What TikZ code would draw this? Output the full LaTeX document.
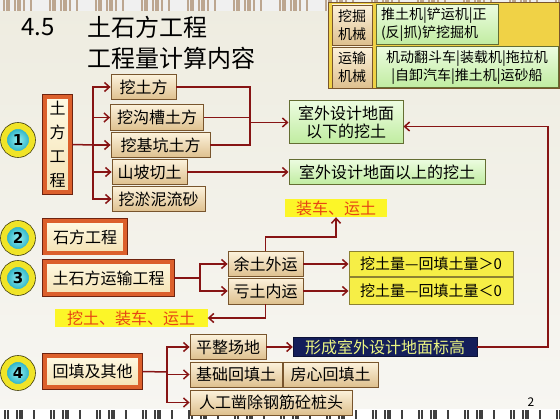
\documentclass[tikz,border=0pt]{standalone}
\usepackage{fontspec}
\setmainfont{Noto Sans CJK SC}
\newfontfamily\numfont{DejaVu Sans}
\usepackage{tikz}
\usetikzlibrary{arrows.meta}

\definecolor{linkred}{RGB}{135,20,20}
\definecolor{tanT}{RGB}{252,242,220}
\definecolor{tanB}{RGB}{222,192,142}
\definecolor{tanD}{RGB}{120,85,45}
\definecolor{creamT}{RGB}{255,250,228}
\definecolor{creamB}{RGB}{244,226,180}
\definecolor{orangeB}{RGB}{220,96,44}
\definecolor{orangeD}{RGB}{110,35,15}
\definecolor{greenT}{RGB}{236,252,224}
\definecolor{greenB}{RGB}{192,236,160}
\definecolor{greenD}{RGB}{100,110,50}
\definecolor{yellowF}{RGB}{246,238,70}
\definecolor{yellowD}{RGB}{140,130,50}
\definecolor{hiYellow}{RGB}{252,246,40}
\definecolor{hiText}{RGB}{230,70,20}
\definecolor{navy}{RGB}{20,30,90}
\definecolor{navyText}{RGB}{235,245,130}
\definecolor{ringY}{RGB}{240,228,40}
\definecolor{tealI}{RGB}{150,240,240}
\definecolor{tealO}{RGB}{20,165,190}
\definecolor{bgTop}{RGB}{238,236,224}
\definecolor{bgBot}{RGB}{247,246,242}
\definecolor{gold}{RGB}{240,210,70}

\begin{document}
\begin{tikzpicture}[x=1pt, y=-1pt,
    tanbox/.style={draw=tanD, line width=0.8pt, top color=tanT, bottom color=tanB,
        inner sep=0pt, font=\fontsize{16}{18}\selectfont},
    mainbox/.style={draw=orangeB, line width=4pt, top color=creamT, bottom color=creamB,
        preaction={draw=orangeD, line width=5.6pt}, inner sep=0pt,
        font=\fontsize{16}{18}\selectfont},
    greenbox/.style={draw=greenD, line width=1pt, top color=greenT, bottom color=greenB,
        inner sep=0pt, font=\fontsize{16}{18}\selectfont},
    yellowbox/.style={draw=yellowD, line width=1pt, fill=yellowF, inner sep=0pt,
        font=\fontsize{15}{18}\selectfont},
    hilite/.style={fill=hiYellow, text=hiText, inner sep=0pt, font=\fontsize{16}{18}\selectfont},
    navybox/.style={fill=navy, draw=navy!60!black, text=navyText, inner sep=0pt,
        font=\fontsize{16}{18}\selectfont},
    numball/.style={circle, minimum size=28pt, inner sep=0pt, draw=ringY, line width=6pt,
        inner color=tealI, outer color=tealO, preaction={draw=black!70!ringY, line width=7.6pt},
        font=\numfont\bfseries\fontsize{15}{15}\selectfont},
    wire/.style={draw=linkred, line width=1.5pt},
    link/.style={wire, -{Straight Barb[length=5pt,width=9pt]}}]
\useasboundingbox (0,0) rectangle (560,419);

% Background and strips
\fill[top color=bgTop, bottom color=bgBot] (0,0) rectangle (560,419);
\fill[gray!12] (0,0) rectangle (560,11);
\foreach \x in {0,46,...,552} {
    \foreach \d in {3,6,8,14,17,19,23,30} {
        \fill[brown!50!gray!70] (\x+\d,0) rectangle ++(1.5,11);
    }
}
\fill[white] (0,409) rectangle (560,419);
\foreach \x in {0,46,...,552} {
    \foreach \d in {4,7,16,19,21,33} {
        \fill[black!75] (\x+\d,410) rectangle ++(1.5,9);
    }
}

% Title
\node[anchor=west, font=\fontsize{24}{24}\selectfont] (t0) at (18,27) {4.5};
\node[anchor=west, font=\fontsize{24}{24}\selectfont] (t1) at (84,27) {土石方工程};
\node[anchor=west, font=\fontsize{24}{24}\selectfont] (t2) at (84,58) {工程量计算内容};

% Machines table
\draw[draw=tanD, fill=gold, line width=1pt] (328,3) rectangle (559.5,89);
\node[tanbox, minimum width=40, minimum height=40, align=center, font=\fontsize{14}{18}\selectfont]
    (k1) at (352,25) {挖掘\\机械};
\node[greenbox, minimum width=122, minimum height=40, text width=112, align=left,
    font=\fontsize{14}{18}\selectfont] (g1) at (437,25) {推土机|铲运机|正\\(反|抓)铲挖掘机};
\node[tanbox, minimum width=40, minimum height=41, align=center, font=\fontsize{14}{18}\selectfont]
    (k2) at (352,67.5) {运输\\机械};
\node[greenbox, minimum width=182, minimum height=41, align=center,
    font=\fontsize{14}{18}\selectfont] (g2) at (467,67.5) {机动翻斗车|装载机|拖拉机\\|自卸汽车|推土机|运砂船};

% 1 Earthwork
\node[numball] (c1) at (18,140) {1};
\node[mainbox, minimum width=25.4, minimum height=95.4, align=center,
    font=\fontsize{16}{24}\selectfont] (m1) at (57.5,144.5) {土\\方\\工\\程};
\coordinate (j1) at (93,145);
\node[tanbox, minimum width=65, minimum height=25] (b11) at (143.5,87) {挖土方};
\node[tanbox, minimum width=93, minimum height=26] (b12) at (157,117.5) {挖沟槽土方};
\node[tanbox, minimum width=99, minimum height=25] (b13) at (160.5,145) {挖基坑土方};
\node[tanbox, minimum width=75, minimum height=25] (b14) at (149.5,172) {山坡切土};
\node[tanbox, minimum width=93, minimum height=25] (b15) at (158.5,199) {挖淤泥流砂};
\node[greenbox, minimum width=114, minimum height=43, align=center] (r1) at (346,122.5)
    {室外设计地面\\以下的挖土};
\node[greenbox, minimum width=196, minimum height=25] (r2) at (387,172) {室外设计地面以上的挖土};
\coordinate (jr) at (250,122.5);

\draw[wire] (m1.east) -- (j1);
\foreach \b in {b11,b12,b13,b14,b15} {
    \draw[link] (j1) |- (\b.west);
}
\draw[wire] (b11.east) -| (jr);
\draw[wire] (b13.east) -| (jr);
\draw[wire] (b12.east) -- (b12.east -| jr);
\draw[link] (jr) -- (r1.west);
\draw[link] (b14.east) -- (r2.west);

% 2 Rock work
\node[numball] (c2) at (18,238) {2};
\node[mainbox, minimum width=80.4, minimum height=31.4] (m2) at (85,237) {石方工程};

% 3 Transport
\node[numball] (c3) at (18,278) {3};
\node[mainbox, minimum width=127.4, minimum height=32.4] (m3) at (108.5,278) {土石方运输工程};
\coordinate (j3) at (200,278);
\node[tanbox, minimum width=75, minimum height=25] (b31) at (265.5,264) {余土外运};
\node[tanbox, minimum width=75, minimum height=26] (b32) at (265.5,291) {亏土内运};
\node[yellowbox, minimum width=164, minimum height=25] (y1) at (431,264) {挖土量—回填土量＞0};
\node[yellowbox, minimum width=164, minimum height=27] (y2) at (431,291) {挖土量—回填土量＜0};
\node[hilite, minimum width=102, minimum height=18] (zc) at (336,208) {装车、运土};
\node[hilite, minimum width=153, minimum height=18] (wz) at (131,318) {挖土、装车、运土};

\draw[wire] (m3.east) -- (j3);
\draw[link] (j3) |- (b31.west);
\draw[link] (j3) |- (b32.west);
\draw[link] (b31.east) -- (y1.west);
\draw[link] (b32.east) -- (y2.west);
\draw[link] (b31.north) -- ++(0,-14) -| (zc.south);
\draw[link] (b32.south) |- (wz.east);

% 4 Backfill and others
\node[numball] (c4) at (18,373) {4};
\node[mainbox, minimum width=95.4, minimum height=31.4] (m4) at (92.5,371.5) {回填及其他};
\coordinate (j4) at (167,372);
\node[tanbox, minimum width=76, minimum height=25] (b41) at (228,347) {平整场地};
\node[tanbox, minimum width=92, minimum height=25] (b42) at (236,374.5) {基础回填土};
\node[tanbox, minimum width=95, minimum height=25] (b43) at (330.5,374.5) {房心回填土};
\node[tanbox, minimum width=162, minimum height=25] (b44) at (271,402.5) {人工凿除钢筋砼桩头};
\node[navybox, minimum width=184, minimum height=19] (n1) at (385,347) {形成室外设计地面标高};

\draw[wire] (m4.east) -- (j4);
\foreach \b in {b41,b42,b44} {
    \draw[link] (j4) |- (\b.west);
}
\draw[link] (b41.east) -- (n1.west);
\draw[link] (n1.east) -- ++(71,0) |- ([yshift=-4pt]r1.east);

% Page number
\node[font=\fontsize{12}{12}\selectfont] (pg) at (531,402) {2};
\end{tikzpicture}
\end{document}
